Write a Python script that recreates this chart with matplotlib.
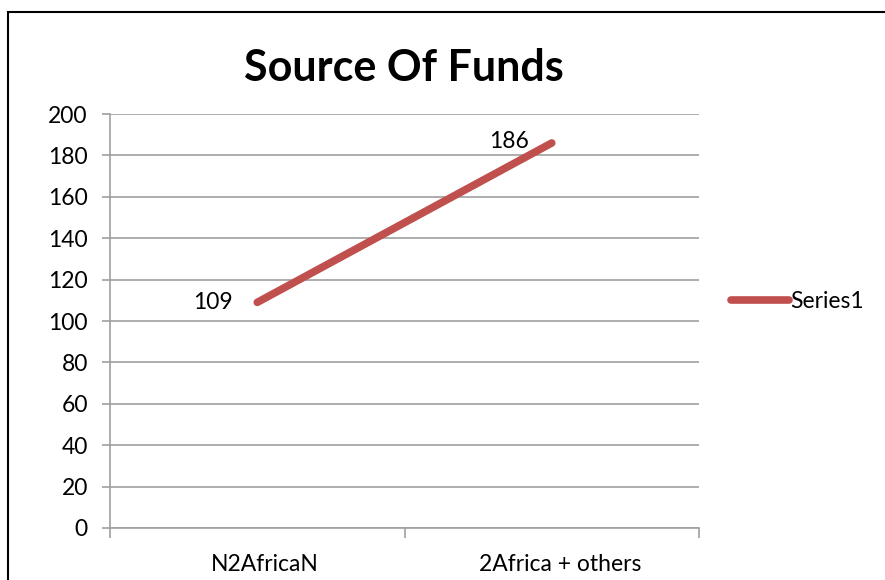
import matplotlib.pyplot as plt
import matplotlib.transforms as mtransforms
from matplotlib.patches import Rectangle

# datos
categorias = ["N2AfricaN", "2Africa + others"]
valores = [109, 186]
serie = "Series1"

plt.rcParams['font.family'] = ['Lato', 'DejaVu Sans']

fig = plt.figure(figsize=(8.85, 5.8), dpi=100)
ax = fig.add_axes([110 / 885, 52 / 580, 589 / 885, 414 / 580])

x = [i + 0.5 for i in range(len(categorias))]
ax.plot(x, valores, color="#C0504D", lw=5.5, solid_capstyle="round", label=serie)

# etiquetas de datos
ax.annotate(str(valores[0]), (x[0], valores[0]), xytext=(-32, 0),
            textcoords="offset points", ha="center", va="center", fontsize=16.5)
ax.annotate(str(valores[1]), (x[1], valores[1]), xytext=(-31, 1),
            textcoords="offset points", ha="center", va="center", fontsize=16.5)

ax.set_xlim(0, len(categorias))
ax.set_ylim(0, 200)
ax.set_yticks(range(0, 201, 20))
ax.set_xticks(range(0, len(categorias) + 1))
ax.set_xticklabels([])
ax.set_xticks(x, minor=True)
ax.set_xticklabels(categorias, minor=True, fontsize=16.5)
ax.tick_params(axis="x", which="minor", length=0, pad=19)
ax.tick_params(axis="x", which="major", length=7, color="#a0a0a0", width=1.2)
ax.tick_params(axis="y", length=6, color="#a0a0a0", width=1.2, labelsize=16.5, pad=10)

# pequeño corrimiento de las etiquetas de categoria
desplaz = mtransforms.ScaledTranslation(8 / 100, 0, fig.dpi_scale_trans)
for lbl in ax.get_xticklabels(minor=True):
    lbl.set_transform(lbl.get_transform() + desplaz)

ax.grid(axis="y", color="#a0a0a0", lw=1.2)
ax.set_axisbelow(True)
for s in ["top", "right"]:
    ax.spines[s].set_visible(False)
for s in ["left", "bottom"]:
    ax.spines[s].set_color("#a0a0a0")
    ax.spines[s].set_linewidth(1.2)

fig.text(404 / 885, 1 - 68 / 580, "Source Of Funds", ha="center", va="center",
         fontsize=31, fontweight="bold")

ax.legend(loc="center left", bbox_to_anchor=(1.02, 0.548), frameon=False,
          fontsize=16.5, handlelength=2.5, handletextpad=0.05)

# marco
fig.patches.append(Rectangle((8 / 885, -0.1), 1.2, 1.1 - 12 / 580, transform=fig.transFigure,
                             fill=False, edgecolor="black", lw=1.5, clip_on=False))

fig.savefig("out.png", dpi=100)
